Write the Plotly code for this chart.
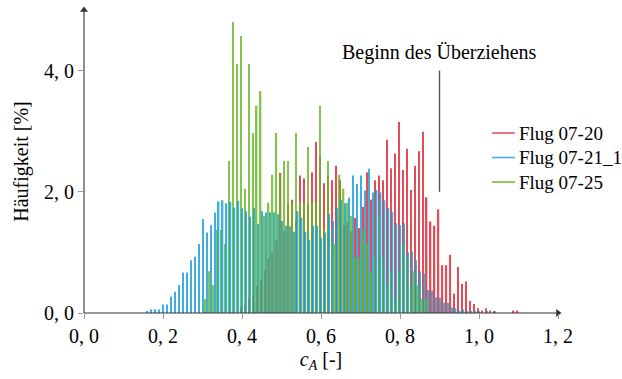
import plotly.graph_objects as go

# bin centres c_A [-] (bin width 0.01)
c_A = [round(0.16 + 0.01 * i, 2) for i in range(95)]

# Häufigkeit [%] per bin, aligned with c_A (0.16 ... 1.10)
flug_07_20 = [
    0, 0, 0, 0, 0, 0, 0, 0, 0, 0,                                   # 0.16-0.25
    0, 0, 0, 0, 0, 0, 0, 0, 0, 0,                                   # 0.26-0.35
    0, 0, 0, 0, 0.10, 0.15, 0.25, 0.30, 0.45, 0.55,                 # 0.36-0.45
    0.70, 0.90, 1.00, 1.20, 2.31, 1.35, 1.80, 1.87, 1.55, 2.27,     # 0.46-0.55
    2.22, 1.80, 2.32, 2.82, 2.58, 2.14, 2.27, 2.19, 2.43, 2.19,     # 0.56-0.65
    1.45, 1.50, 1.35, 1.57, 1.40, 1.75, 2.32, 1.87, 2.19, 2.27,     # 0.66-0.75
    2.19, 2.86, 2.39, 2.63, 3.15, 2.36, 2.71, 2.03, 2.43, 2.67,     # 0.76-0.85
    2.99, 1.91, 1.51, 1.44, 1.71, 0.79, 0.79, 0.96, 0.32, 0.76,     # 0.86-0.95
    0.48, 0.52, 0.20, 0.15, 0.08, 0.04, 0.08, 0.04, 0.02, 0,        # 0.96-1.05
    0, 0, 0, 0.04, 0.04,                                            # 1.06-1.10
]
flug_07_21_1 = [
    0.02, 0.06, 0.06, 0.06, 0.14, 0.14, 0.27, 0.35, 0.46, 0.67,     # 0.16-0.25
    0.67, 0.87, 0.93, 1.14, 1.55, 1.33, 1.45, 1.66, 1.84, 1.86,     # 0.26-0.35
    1.81, 1.83, 1.74, 1.85, 1.73, 1.68, 1.59, 1.73, 1.47, 1.68,     # 0.36-0.45
    1.66, 1.66, 1.66, 1.63, 1.52, 1.44, 1.43, 1.34, 1.68, 1.57,     # 0.46-0.55
    1.34, 1.21, 1.44, 1.44, 1.24, 1.33, 1.63, 1.52, 1.73, 1.87,     # 0.56-0.65
    1.81, 1.90, 2.27, 2.13, 2.27, 2.02, 2.38, 1.99, 2.03, 1.99,     # 0.66-0.75
    1.86, 1.73, 1.67, 1.48, 1.45, 1.48, 1.00, 1.02, 0.87, 0.69,     # 0.76-0.85
    0.65, 0.38, 0.37, 0.26, 0.25, 0.17, 0.17, 0.09, 0.08, 0.04,     # 0.86-0.95
    0.06, 0.02, 0.02, 0.02, 0.02, 0, 0.02, 0, 0.02, 0,              # 0.96-1.05
    0, 0, 0, 0, 0,                                                  # 1.06-1.10
]
flug_07_25 = [
    0, 0, 0, 0, 0, 0, 0, 0, 0, 0,                                   # 0.16-0.25
    0, 0, 0, 0, 0, 0.23, 0.69, 0.46, 1.37, 1.37,                    # 0.26-0.35
    1.14, 2.51, 4.80, 4.11, 4.57, 2.05, 4.11, 2.97, 3.42, 3.66,     # 0.36-0.45
    1.60, 1.82, 2.28, 2.97, 2.28, 2.51, 2.51, 1.82, 2.97, 1.82,     # 0.46-0.55
    1.82, 2.74, 1.82, 1.82, 3.42, 1.37, 2.51, 1.37, 1.14, 2.28,     # 0.56-0.65
    2.05, 1.82, 1.60, 0.92, 0.92, 1.37, 1.14, 0.69, 0.92, 1.60,     # 0.66-0.75
    0.92, 0.46, 0.69, 0.23, 0.69, 1.14, 0.92, 0.46, 0.69, 0.46,     # 0.76-0.85
    0.23, 0.23, 0, 0, 0, 0, 0, 0, 0, 0,                             # 0.86-0.95
    0, 0, 0, 0, 0, 0, 0, 0, 0, 0,                                   # 0.96-1.05
    0, 0, 0, 0, 0,                                                  # 1.06-1.10
]

x_ticks = [0.0, 0.2, 0.4, 0.6, 0.8, 1.0, 1.2]
x_ticklabels = ["0, 0", "0, 2", "0, 4", "0, 6", "0, 8", "1, 0", "1, 2"]
y_ticks = [0, 2, 4]
y_ticklabels = ["0, 0", "2, 0", "4, 0"]
x_max, y_max = 1.2, 5.0

series = [
    ("Flug 07-20", flug_07_20, "#e0202c", -0.0025),
    ("Flug 07-25", flug_07_25, "#62b81e", -0.0028),
    ("Flug 07-21_1", flug_07_21_1, "#149bd7", 0.001),
]
legend_order = ["Flug 07-20", "Flug 07-21_1", "Flug 07-25"]
legend_colors = {"Flug 07-20": "#e4545e", "Flug 07-21_1": "#45b3e3", "Flug 07-25": "#6fc22e"}

FONT = "Liberation Serif"
BW = 0.0036
W, H = 622, 379
ML, MR, MT, MB = 84, 64, 10, 66
PW, PH = W - ML - MR, H - MT - MB


def px_x(p):  # pixel -> paper fraction (legend placement)
    return (p - ML) / PW


def px_y(p):
    return (H - MB - p) / PH


fig = go.Figure()
for name, vals, col, shift in series:
    fig.add_trace(go.Bar(
        x=c_A, y=vals, width=BW, offset=shift - BW / 2,
        marker=dict(color=col, line=dict(width=0)), opacity=0.8,
        name=name, showlegend=False,
    ))

# axis lines with arrow heads
fig.add_shape(type="line", xref="paper", yref="paper", x0=0, x1=1.0, y0=0, y1=0,
              line=dict(color="#333333", width=1.1))
fig.add_shape(type="line", xref="paper", yref="paper", x0=0, x1=0, y0=0, y1=1.0,
              line=dict(color="#333333", width=1.1))
fig.add_trace(go.Scatter(
    x=[x_max, 0], y=[0, y_max], mode="markers", cliponaxis=False,
    marker=dict(symbol=["triangle-right", "triangle-up"], size=7, color="#333333",
                line=dict(width=0)),
    hoverinfo="skip", showlegend=False,
))

# legend drawn by hand so it does not push the plot margins
for i, name in enumerate(legend_order):
    yy = px_y(133 + 24.5 * i)
    fig.add_shape(type="line", xref="paper", yref="paper",
                  x0=px_x(492), x1=px_x(515), y0=yy, y1=yy,
                  line=dict(color=legend_colors[name], width=1.6))
    fig.add_annotation(xref="paper", yref="paper", x=px_x(517), y=yy,
                       text=name, showarrow=False, xanchor="left", yanchor="middle",
                       font=dict(family=FONT, size=19, color="black"))

fig.add_shape(type="line", x0=0.9, x1=0.9, y0=2.0, y1=4.0, xref="x", yref="y",
              line=dict(color="#555555", width=1.4))
fig.add_annotation(x=0.9, y=4.0, xref="x", yref="y", text="Beginn des Überziehens",
                   showarrow=False, yanchor="bottom", yshift=5,
                   font=dict(family=FONT, size=20, color="black"))

fig.update_layout(
    width=W, height=H,
    margin=dict(l=ML, r=MR, t=MT, b=MB),
    paper_bgcolor="white", plot_bgcolor="white",
    barmode="overlay",
    showlegend=False,
    font=dict(family=FONT, size=20, color="black"),
    xaxis=dict(range=[0, x_max], tickvals=x_ticks, ticktext=x_ticklabels,
               ticks="outside", ticklen=5, tickcolor="#999999", showgrid=False,
               zeroline=False, showline=False, automargin=False,
               tickfont=dict(family=FONT, size=20),
               title=dict(text="<i>c</i><sub><i>A</i></sub> [-]", standoff=5,
                          font=dict(family=FONT, size=20))),
    yaxis=dict(range=[0, y_max], tickvals=y_ticks, ticktext=y_ticklabels,
               ticks="outside", ticklen=5, tickcolor="#999999", showgrid=False,
               zeroline=False, showline=False, automargin=False,
               tickfont=dict(family=FONT, size=20),
               title=dict(text="Häufigkeit [%]", standoff=10,
                          font=dict(family=FONT, size=20))),
)

fig.write_html("out.html")
